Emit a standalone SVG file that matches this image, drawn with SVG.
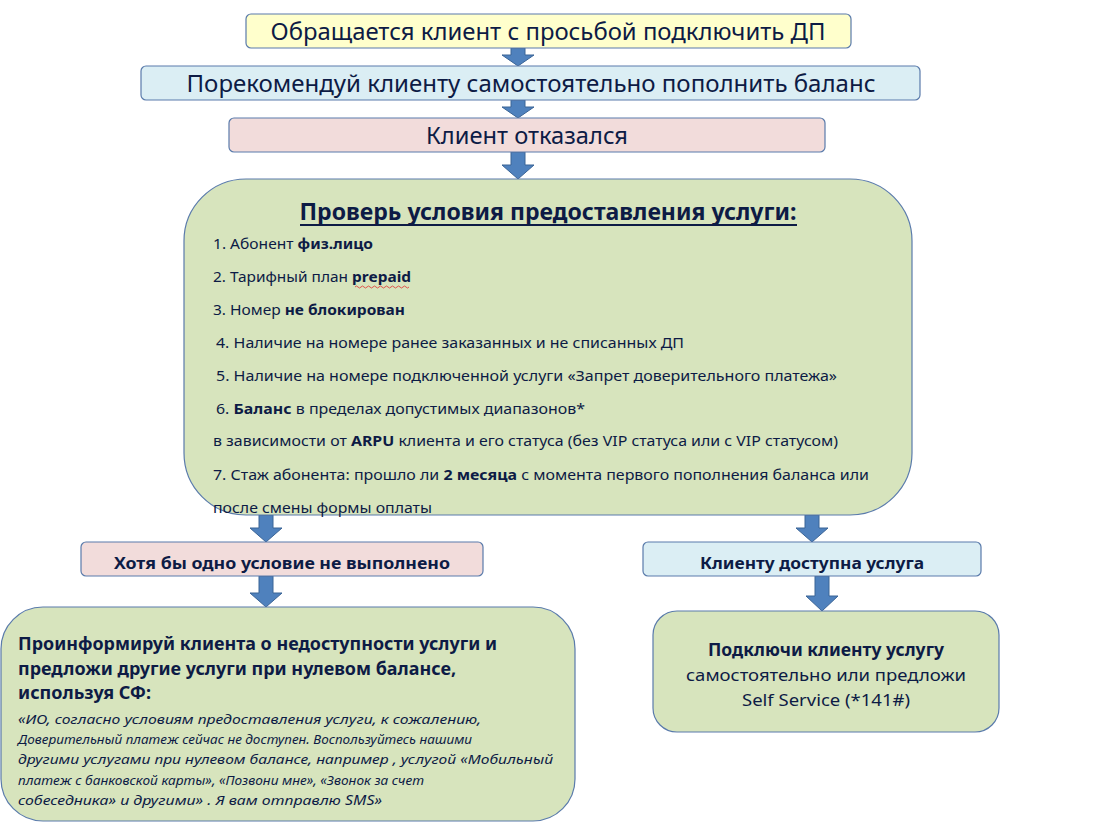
<svg xmlns="http://www.w3.org/2000/svg" width="1095" height="823" viewBox="0 0 1095 823">
<style>
.box{stroke:#5a7bab;stroke-width:1.2}
.y{fill:#ffffcc}.b{fill:#dbeef4}.p{fill:#f2dcdb}.g{fill:#d7e4bd}
text{font-family:"Noto Sans","Open Sans","Liberation Sans",sans-serif;fill:#0d1b45}
.big{font-size:23px}
.li{font-size:14px}
.bold{font-weight:bold}
.it{font-style:italic;font-size:13.5px}
.arrow{fill:#4f81bd;stroke:#3a6496;stroke-width:1}
</style>
<rect width="1095" height="823" fill="#ffffff"/>
<g id="connectors">
<path class="arrow" d="M511,48 H525 V55 H534 L518,66 L502,55 H511 Z"/>
<path class="arrow" d="M511,100 H525 V107 H534 L518,118 L502,107 H511 Z"/>
<path class="arrow" d="M511,152 H525 V165 H534 L518,179 L502,165 H511 Z"/>
<path class="arrow" d="M259,515 H273 V528 H282 L266,542 L250,528 H259 Z"/>
<path class="arrow" d="M805,515 H819 V528 H828 L812,542 L796,528 H805 Z"/>
<path class="arrow" d="M259,576 H273 V593 H282 L266,607 L250,593 H259 Z"/>
<path class="arrow" d="M815,576 H829 V596 H838 L822,611 L806,596 H815 Z"/>
</g>
<g id="n1">
<rect class="box y" x="246" y="14" width="605" height="34" rx="5"/>
<text class="big" x="548" y="40" text-anchor="middle" textLength="555" lengthAdjust="spacingAndGlyphs">Обращается клиент с просьбой подключить ДП</text>
</g>
<g id="n2">
<rect class="box b" x="141" y="66" width="779" height="34" rx="5"/>
<text class="big" x="531" y="92" text-anchor="middle" textLength="689" lengthAdjust="spacingAndGlyphs">Порекомендуй клиенту самостоятельно пополнить баланс</text>
</g>
<g id="n3">
<rect class="box p" x="229" y="118" width="596" height="34" rx="5"/>
<text class="big" x="527" y="144" text-anchor="middle" textLength="202" lengthAdjust="spacingAndGlyphs">Клиент отказался</text>
</g>
<g id="n4">
<rect class="box g" x="184" y="179" width="728" height="336" rx="62"/>
<text class="big bold" x="548" y="220" text-anchor="middle" textLength="497" lengthAdjust="spacingAndGlyphs">Проверь условия предоставления услуги:</text>
<line x1="300" y1="225" x2="797" y2="225" stroke="#0d1b45" stroke-width="2"/>
<text class="li" x="213" y="249" textLength="160" lengthAdjust="spacingAndGlyphs">1. Абонент <tspan class="bold">физ.лицо</tspan></text>
<text class="li" x="213" y="282" textLength="198" lengthAdjust="spacingAndGlyphs">2. Тарифный план <tspan class="bold">prepaid</tspan></text>
<path d="M355,287 q1.5,-2 3,0 t3,0 t3,0 t3,0 t3,0 t3,0 t3,0 t3,0 t3,0 t3,0 t3,0 t3,0 t3,0 t3,0 t3,0 t3,0 t3,0 t3,0" fill="none" stroke="#e03030" stroke-width="0.8"/>
<text class="li" x="213" y="315" textLength="192" lengthAdjust="spacingAndGlyphs">3. Номер <tspan class="bold">не блокирован</tspan></text>
<text class="li" x="216" y="348" textLength="468" lengthAdjust="spacingAndGlyphs">4. Наличие  на номере ранее заказанных и не списанных ДП</text>
<text class="li" x="216" y="381" textLength="621" lengthAdjust="spacingAndGlyphs">5. Наличие  на номере подключенной  услуги «Запрет доверительного платежа»</text>
<text class="li" x="216" y="414" textLength="369" lengthAdjust="spacingAndGlyphs">6. <tspan class="bold">Баланс</tspan> в пределах допустимых диапазонов*</text>
<text class="li" x="213" y="446" textLength="625" lengthAdjust="spacingAndGlyphs">в зависимости от <tspan class="bold">ARPU</tspan> клиента  и его статуса (без VIP статуса или с VIP статусом)</text>
<text class="li" x="213" y="480" textLength="656" lengthAdjust="spacingAndGlyphs">7. Стаж абонента:  прошло ли <tspan class="bold">2 месяца</tspan> с момента первого пополнения баланса или</text>
<text class="li" x="213" y="513" textLength="219" lengthAdjust="spacingAndGlyphs">после смены формы  оплаты</text>
</g>
<g id="n5">
<rect class="box p" x="81" y="542" width="402" height="34" rx="5"/>
<text class="bold" font-size="16" x="282" y="569" text-anchor="middle" textLength="336" lengthAdjust="spacingAndGlyphs">Хотя бы одно  условие  не выполнено</text>
</g>
<g id="n6">
<rect class="box b" x="643" y="542" width="338" height="34" rx="5"/>
<text class="bold" font-size="16" x="812" y="569" text-anchor="middle" textLength="224" lengthAdjust="spacingAndGlyphs">Клиенту доступна  услуга</text>
</g>
<g id="n7">
<rect class="box g" x="1" y="607" width="574" height="214" rx="42"/>
<text class="bold" font-size="17" x="18" y="650" textLength="479" lengthAdjust="spacingAndGlyphs">Проинформируй  клиента  о недоступности  услуги и</text>
<text class="bold" font-size="17" x="18" y="675" textLength="438" lengthAdjust="spacingAndGlyphs">предложи другие услуги при нулевом  балансе,</text>
<text class="bold" font-size="17" x="18" y="699" textLength="133" lengthAdjust="spacingAndGlyphs">используя СФ:</text>
<text class="it" x="18" y="724" textLength="463" lengthAdjust="spacingAndGlyphs">«ИО, согласно условиям предоставления услуги, к сожалению,</text>
<text class="it" x="18" y="744" textLength="454" lengthAdjust="spacingAndGlyphs">Доверительный платеж сейчас не доступен. Воспользуйтесь нашими</text>
<text class="it" x="18" y="764" textLength="535" lengthAdjust="spacingAndGlyphs">другими услугами при нулевом балансе, например , услугой «Мобильный</text>
<text class="it" x="18" y="785" textLength="406" lengthAdjust="spacingAndGlyphs">платеж с банковской карты», «Позвони мне», «Звонок за счет</text>
<text class="it" x="18" y="805" textLength="364" lengthAdjust="spacingAndGlyphs">собеседника» и другими» . Я вам отправлю SMS»</text>
</g>
<g id="n8">
<rect class="box g" x="653" y="611" width="346" height="121" rx="24"/>
<text class="bold" font-size="17" x="826" y="656" text-anchor="middle" textLength="236" lengthAdjust="spacingAndGlyphs">Подключи  клиенту услугу</text>
<text font-size="17" x="826" y="681" text-anchor="middle" textLength="280" lengthAdjust="spacingAndGlyphs">самостоятельно или предложи</text>
<text font-size="17" x="826" y="706" text-anchor="middle" textLength="168" lengthAdjust="spacingAndGlyphs">Self Service (*141#)</text>
</g>
</svg>
